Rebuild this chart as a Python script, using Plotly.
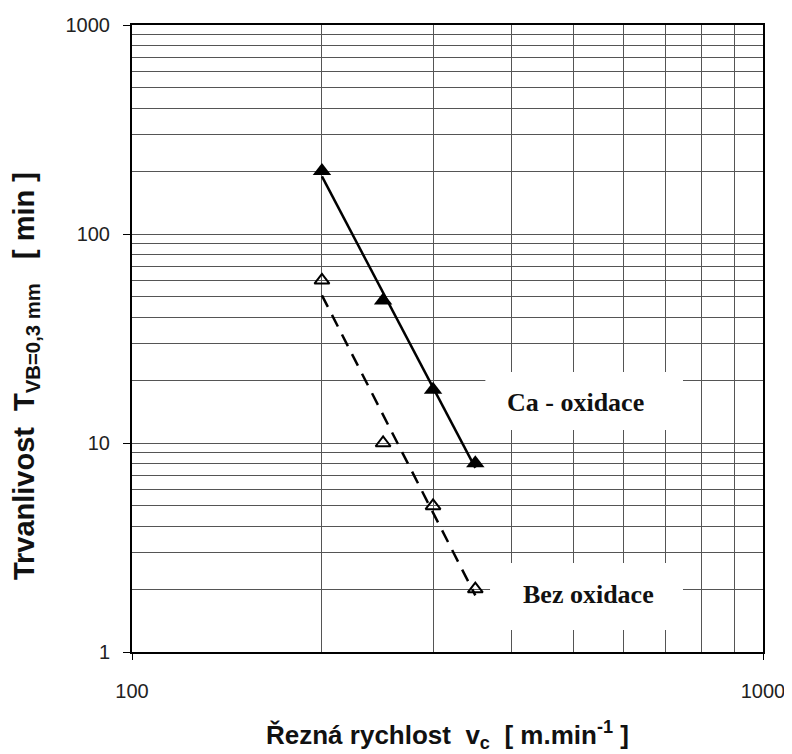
import numpy as np
import plotly.graph_objects as go

# ---- data ----
vc = [200, 250, 300, 350]                 # cutting speed [m/min]
T_ca = [200, 48, 18, 8]                   # Ca - oxidace (filled triangles)
T_bez = [60, 10, 5, 2]                    # Bez oxidace (hollow triangles)

x_ticks = [100, 1000]
x_ticktext = ["100", "1000"]
y_ticks = [1, 10, 100, 1000]
y_ticktext = ["1", "10", "100", "1000"]

label_ca = "Ca - oxidace"
label_bez = "Bez oxidace"
x_title = "Řezná rychlost  v<sub>c</sub>  [ m.min<sup>-1</sup> ]"
y_title = "Trvanlivost  T<sub>VB=0,3 mm</sub>   [ min ]"


def power_trend(x, y):
    lx, ly = np.log10(x), np.log10(y)
    b, a = np.polyfit(lx, ly, 1)
    xs = np.array([min(x), max(x)], dtype=float)
    return xs, 10 ** (a + b * np.log10(xs))


xc, yc = power_trend(vc, T_ca)
xb, yb = power_trend(vc, T_bez)

fig = go.Figure()
fig.add_trace(go.Scatter(x=xc, y=yc, mode="lines",
                         line=dict(color="black", width=2.5), showlegend=False))
fig.add_trace(go.Scatter(x=xb, y=yb, mode="lines",
                         line=dict(color="black", width=2.5, dash="13px,9px"),
                         showlegend=False))
fig.add_trace(go.Scatter(x=vc, y=T_ca, mode="markers",
                         marker=dict(symbol="triangle-up", size=16, color="black"),
                         showlegend=False))
fig.add_trace(go.Scatter(x=vc, y=T_bez, mode="markers",
                         marker=dict(symbol="triangle-up-open", size=13, color="black",
                                     line=dict(width=2, color="black")),
                         showlegend=False))

minor_x = [v * 100 for v in range(2, 10)]
minor_y = [v * d for d in (1, 10, 100) for v in range(2, 10)]

grid_col = "#555555"
axis_font = dict(family="Liberation Sans, Arial", size=20, color="#222")

fig.update_xaxes(type="log", range=[2, 3], tickvals=x_ticks, ticktext=x_ticktext,
                 automargin=False,
                 showgrid=True, gridcolor=grid_col, gridwidth=1,
                 showline=True, linecolor="black", linewidth=2, mirror=True,
                 ticks="outside", ticklen=6, tickcolor="black",
                 ticklabelstandoff=14, tickfont=axis_font,
                 zeroline=False,
                 minor=dict(tickvals=minor_x, showgrid=True, gridcolor=grid_col,
                            gridwidth=1, ticks=""))
fig.update_yaxes(type="log", range=[0, 3], tickvals=y_ticks, ticktext=y_ticktext,
                 automargin=False,
                 showgrid=True, gridcolor=grid_col, gridwidth=1,
                 showline=True, linecolor="black", linewidth=2, mirror=True,
                 ticks="outside", ticklen=7, tickcolor="black",
                 ticklabelstandoff=9, tickfont=axis_font, zeroline=False,
                 minor=dict(tickvals=minor_y, showgrid=True, gridcolor=grid_col,
                            gridwidth=1, ticks=""))

# white boxes behind the curve labels (cover the grid)
for x0, x1, y0, y1 in [(0.560, 0.8732, 0.3541, 0.4466), (0.5674, 0.8732, 0.0351, 0.1419)]:
    fig.add_shape(type="rect", xref="paper", yref="paper", x0=x0, x1=x1, y0=y0, y1=y1,
                  fillcolor="white", line=dict(width=0), layer="above")

lab_font = dict(family="Liberation Serif, Times New Roman", size=26, color="#111")
fig.add_annotation(text=f"<b>{label_ca}</b>", xref="paper", yref="paper",
                   x=0.7036, y=0.3987, xanchor="center", yanchor="middle",
                   showarrow=False, font=lab_font)
fig.add_annotation(text=f"<b>{label_bez}</b>", xref="paper", yref="paper",
                   x=0.7227, y=0.0925, xanchor="center", yanchor="middle",
                   showarrow=False, font=lab_font)

fig.add_annotation(text=f"<b>{x_title}</b>", xref="paper", yref="paper",
                   x=0.5, y=-0.132, xanchor="center", yanchor="middle", showarrow=False,
                   font=dict(family="Liberation Sans, Arial", size=26, color="#111"))
fig.add_annotation(text=f"<b>{y_title}</b>", xref="paper", yref="paper",
                   x=-0.168, y=0.44, xanchor="center", yanchor="middle", showarrow=False,
                   textangle=-90,
                   font=dict(family="Liberation Sans, Arial", size=29, color="#111"))

# page body has an 8px margin: shift the figure accordingly
fig.update_layout(width=784, height=746,
                  margin=dict(l=124, r=29, t=17, b=102),
                  plot_bgcolor="white", paper_bgcolor="white",
                  showlegend=False)

fig.write_html("out.html")
